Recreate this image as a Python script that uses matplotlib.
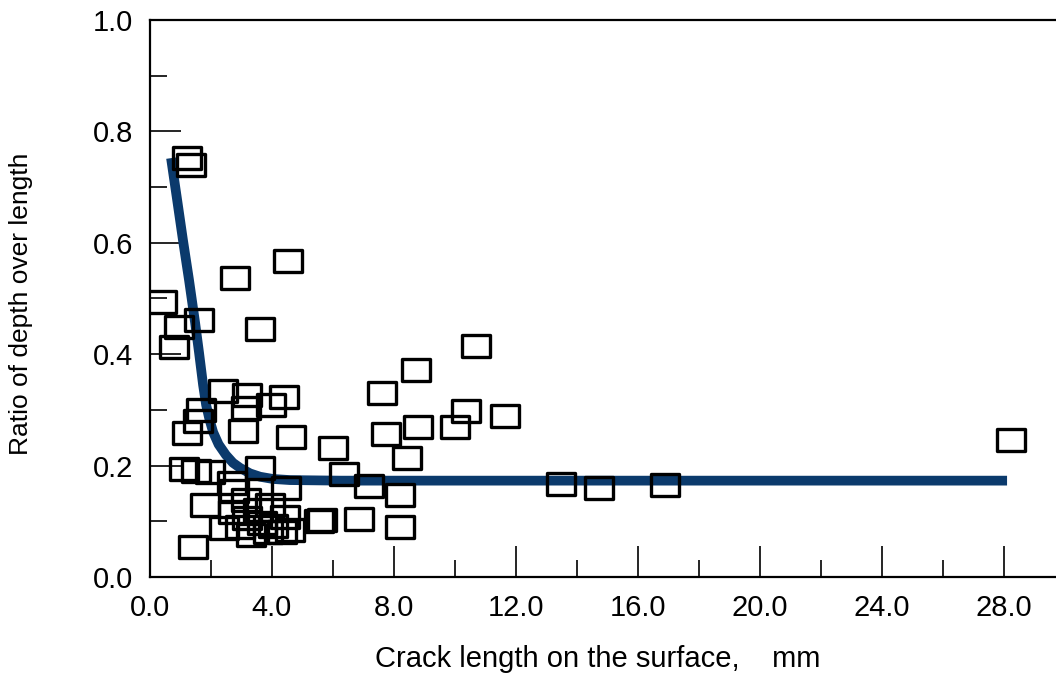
import matplotlib
matplotlib.use("Agg")
import matplotlib.pyplot as plt
from matplotlib.path import Path
from matplotlib.ticker import MultipleLocator, FormatStrFormatter

plt.rcParams['font.family'] = ['Liberation Sans', 'DejaVu Sans']

# Measured points: crack length on surface (mm) vs ratio depth/length
crack_length = [1.21, 1.34, 0.39, 0.95, 1.61, 0.79, 2.79, 4.52, 3.61, 2.39,
                3.18, 4.39, 3.97, 3.15, 1.67, 1.57, 1.21, 3.05, 4.62, 1.11,
                1.51, 1.97, 3.61, 2.69, 4.46, 1.80, 1.41, 5.54, 8.72, 7.61,
                10.36, 10.00, 8.79, 7.74, 8.43, 6.00, 6.36, 7.18, 8.20, 5.64,
                6.85, 8.20, 10.69, 11.64, 13.48, 14.72, 16.89, 28.23,
                2.43, 2.72, 3.18, 3.67, 4.43, 4.33, 3.31, 3.87, 2.95, 3.54,
                4.03, 4.59, 2.75, 3.15, 3.93]
depth_ratio = [0.752, 0.740, 0.494, 0.449, 0.461, 0.413, 0.537, 0.567, 0.445, 0.334,
               0.327, 0.323, 0.309, 0.303, 0.300, 0.280, 0.259, 0.262, 0.251, 0.194,
               0.190, 0.189, 0.196, 0.169, 0.160, 0.129, 0.054, 0.101, 0.372, 0.330,
               0.298, 0.269, 0.269, 0.257, 0.214, 0.232, 0.185, 0.163, 0.147, 0.102,
               0.104, 0.090, 0.415, 0.289, 0.167, 0.160, 0.165, 0.246,
               0.088, 0.117, 0.106, 0.097, 0.108, 0.081, 0.075, 0.081, 0.090, 0.120,
               0.092, 0.084, 0.154, 0.138, 0.129]

# Fitted trend curve
fit_x = [0.69, 0.89, 1.08, 1.28, 1.48, 1.61, 1.74, 1.84, 1.95, 2.07, 2.25, 2.49,
         2.72, 2.95, 3.28, 3.61, 4.03, 4.59, 6.23, 28.1]
fit_y = [0.752, 0.677, 0.605, 0.533, 0.456, 0.402, 0.345, 0.309, 0.283, 0.260,
         0.238, 0.219, 0.205, 0.196, 0.186, 0.180, 0.176, 0.174, 0.173, 0.173]

x_ticks = [0, 4, 8, 12, 16, 20, 24, 28]
y_ticks = [0.0, 0.2, 0.4, 0.6, 0.8, 1.0]

fig = plt.figure(figsize=(10.56, 6.75), dpi=100)
ax = fig.add_axes([150/1056, 98/675, 915/1056, 557/675])

rect = Path([(-1, -0.8), (1, -0.8), (1, 0.8), (-1, 0.8), (-1, -0.8)],
            [Path.MOVETO, Path.LINETO, Path.LINETO, Path.LINETO, Path.CLOSEPOLY])

ax.plot(fit_x, fit_y, color='#0b3a6c', lw=7, solid_capstyle='butt',
        solid_joinstyle='round', zorder=2)
ax.plot(crack_length, depth_ratio, linestyle='none', marker=rect, markersize=19.5,
        markerfacecolor='none', markeredgecolor='black', markeredgewidth=2.4, zorder=3)

ax.set_xlim(0, 30)
ax.set_ylim(0, 1.0)
ax.set_xticks(x_ticks)
ax.set_yticks(y_ticks)
ax.xaxis.set_major_formatter(FormatStrFormatter('%.1f'))
ax.yaxis.set_major_formatter(FormatStrFormatter('%.1f'))
ax.xaxis.set_minor_locator(MultipleLocator(2))
ax.yaxis.set_minor_locator(MultipleLocator(0.1))
ax.tick_params(which='both', direction='in', width=1.2, colors='black',
               labelsize=21, pad=12, top=False, right=False)
ax.tick_params(which='major', length=22)
ax.tick_params(which='minor', length=12)
for s in ax.spines.values():
    s.set_linewidth(1.6)

ax.set_xlabel('Crack length on the surface,    mm', fontsize=21)
ax.xaxis.set_label_coords(0.489, -0.122)
ax.set_ylabel('Ratio of depth over length', fontsize=19)
ax.yaxis.set_label_coords(-0.128, 0.49)

fig.savefig('out.png', dpi=100)
